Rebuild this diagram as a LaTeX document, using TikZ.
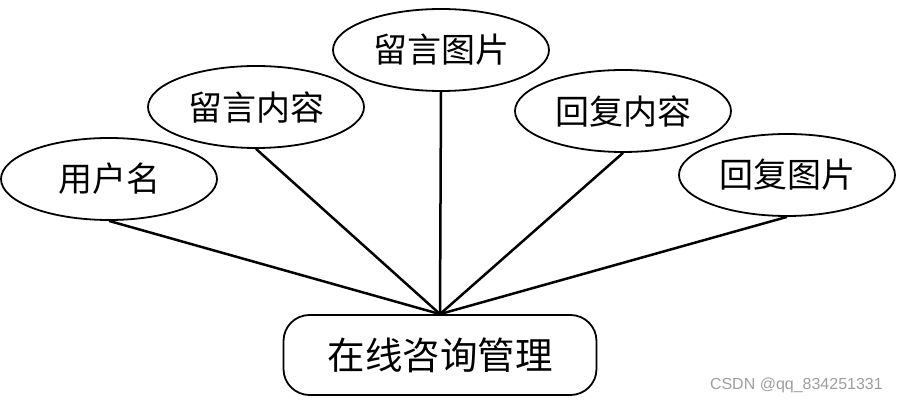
\documentclass[tikz,border=0pt]{standalone}
\usepackage{fontspec}
\newfontfamily\cjk{Noto Sans CJK SC}
\setmainfont{Liberation Sans}
\usetikzlibrary{shapes.geometric}
\tikzset{
  attr/.style={ellipse, draw=black, line width=1.8pt, minimum width=216pt, minimum height=82pt, inner sep=0pt, font=\cjk\fontsize{34}{34}\selectfont},
  entity/.style={rectangle, rounded corners=26pt, draw=black, line width=1.8pt, minimum width=313pt, minimum height=80pt, inner sep=0pt, font=\cjk\fontsize{37.5}{37.5}\selectfont},
  link/.style={line width=2.5pt, black},
}
\begin{document}
\begin{tikzpicture}[x=1pt,y=-1pt]
\useasboundingbox (0,0) rectangle (898,403);
\node[attr] (user) at (109,179) {用户名};
\node[attr] (msg) at (256,107) {留言内容};
\node[attr] (msgimg) at (441,50) {留言图片};
\node[attr] (reply) at (623,111) {回复内容};
\node[attr] (replyimg) at (787,175) {回复图片};
\node[entity] (main) at (440,355) {在线咨询管理};
\foreach \n in {user,msg,msgimg,reply,replyimg}
  \draw[link] (\n.south) -- (main.north);
\node[anchor=base east, text=black!38, font=\fontsize{16}{16}\selectfont, inner sep=0pt] (wm) at (883,390) {CSDN @qq\_834251331};
\end{tikzpicture}
\end{document}
